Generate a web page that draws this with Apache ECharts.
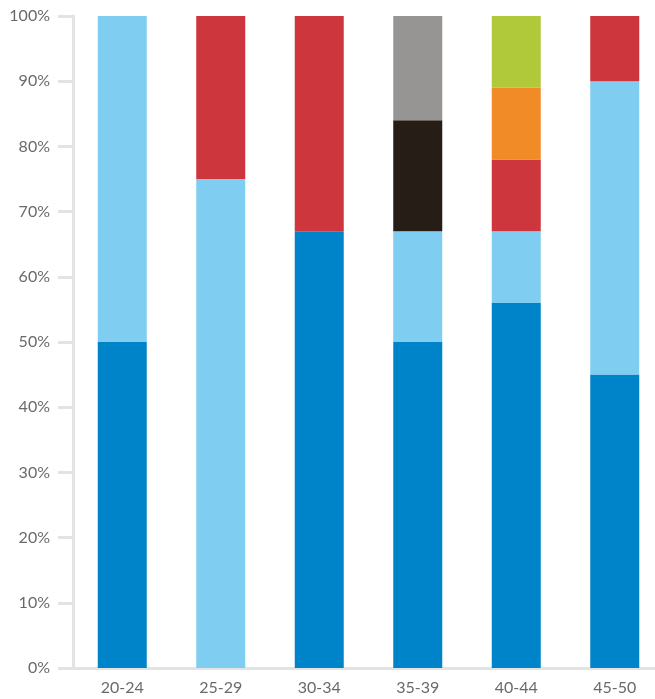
<!DOCTYPE html>
<html><head><meta charset="utf-8">
<script src="https://cdn.jsdelivr.net/npm/echarts@6/dist/echarts.min.js"></script>
<style>html,body{margin:0;padding:0;background:#fff}#c{width:655px;height:699px}</style>
</head><body><div id="c"></div>
<script>
const categories = ['20-24','25-29','30-34','35-39','40-44','45-50'];
const yTicks = [0,10,20,30,40,50,60,70,80,90,100];
const darkBlue  = [50, 0, 67, 50, 56, 45];
const lightBlue = [50, 75, 0, 17, 11, 45];
const black     = [0, 0, 0, 17, 0, 0];
const gray      = [0, 0, 0, 16, 0, 0];
const red       = [0, 25, 33, 0, 11, 10];
const orange    = [0, 0, 0, 0, 11, 0];
const green     = [0, 0, 0, 0, 11, 0];

const seriesDefs = [
  ['darkBlue', darkBlue, '#0084C9'],
  ['lightBlue', lightBlue, '#7FCDF1'],
  ['black', black, '#261D16'],
  ['gray', gray, '#969594'],
  ['red', red, '#CC363C'],
  ['orange', orange, '#F18B28'],
  ['green', green, '#B0C93B']
];

const chart = echarts.init(document.getElementById('c'), null, {renderer:'canvas'});
chart.setOption({
  animation: false,
  grid: {left: 73, right: -9, top: 16, bottom: 31, containLabel: false, outerBoundsMode: 'none'},
  xAxis: {
    type: 'category', data: categories,
    axisLine: {show: true, lineStyle: {color: '#E3E3E3', width: 3}},
    axisTick: {show: false},
    axisLabel: {color: '#6a6a6a', fontSize: 16, fontFamily: 'Lato', fontWeight: 'normal', margin: 12}
  },
  yAxis: {
    type: 'value', min: yTicks[0], max: yTicks[yTicks.length-1], interval: 10,
    axisLine: {show: true, lineStyle: {color: '#E3E3E3', width: 3}},
    axisTick: {show: true, length: 15, lineStyle: {color: '#E3E3E3', width: 3}},
    splitLine: {show: false},
    axisLabel: {color: '#6a6a6a', fontSize: 16, fontFamily: 'Lato', fontWeight: 'normal', margin: 23,
      formatter: v => v + '%'}
  },
  series: seriesDefs.map(([name, data, color]) => ({
    name, type: 'bar', stack: 'all', data, barWidth: 49,
    itemStyle: {color}
  }))
});
</script></body></html>
